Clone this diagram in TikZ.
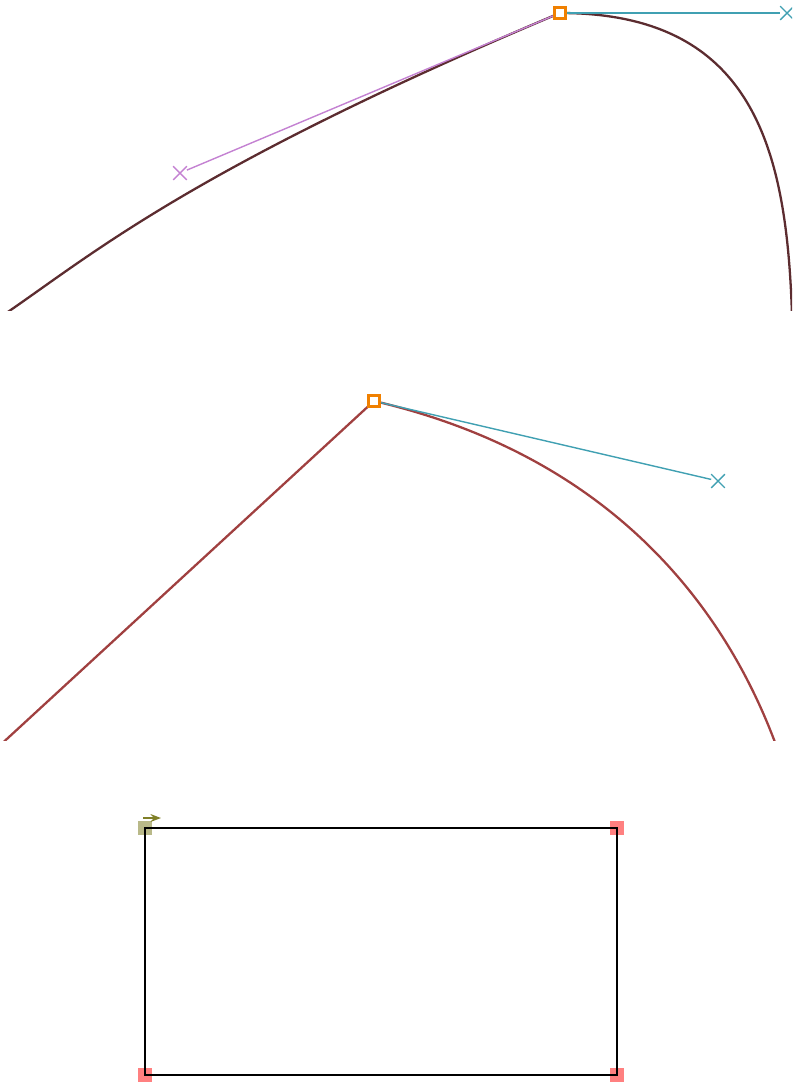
\documentclass[tikz,border=0pt]{standalone}
\usepackage{tikz}
\usetikzlibrary{positioning,arrows.meta,shapes.misc}

\definecolor{curvedark}{RGB}{92,44,48}
\definecolor{curvered}{RGB}{160,64,64}
\definecolor{handlein}{RGB}{196,130,210}
\definecolor{handleout}{RGB}{64,160,178}
\definecolor{knotorange}{RGB}{240,128,0}
\definecolor{cornerpink}{RGB}{255,128,128}
\definecolor{originolive}{RGB}{128,128,40}

\begin{document}
\begin{tikzpicture}[
  x=0.02cm, y=-0.02cm,
  knot/.style={draw=knotorange, line width=1.6pt, fill=white, rectangle,
               minimum size=6.5pt, inner sep=0pt},
  ctrl/.style={draw, cross out, minimum size=7pt, inner sep=0pt, line width=0.8pt},
  corner/.style={fill=cornerpink, rectangle, minimum size=7.5pt, inner sep=0pt},
  handle/.style={line width=0.8pt},
  >=Stealth
]
  \useasboundingbox (0,0) rectangle (792,1083);

  % Panel 1: smooth knot with both handles
  \begin{scope}
    \clip (0,0) rectangle (792,310);
    \coordinate (a0) at (-4,320);
    \coordinate (a1) at (86,260);
    \coordinate (b3) at (793,400);
    \coordinate (b2) at (793,200);
    \node[ctrl, handlein] (hin) at (180,173) {};
    \node[ctrl, handleout] (hout) at (787,13) {};
    \coordinate (k1) at (560,13);
    \draw[curvedark, line width=1.3pt]
      (a0) .. controls (a1) and (hin.center) .. (k1)
           .. controls (hout.center) and (b2) .. (b3);
    \draw[handle, handlein] (k1) -- (hin);
    \draw[handle, handleout] (k1) -- (hout);
    \node[knot] (knotA) at (k1) {};
  \end{scope}

  % Panel 2: corner knot, outgoing handle only
  \begin{scope}
    \clip (0,390) rectangle (792,740);
    \coordinate (c0) at (-29,772);
    \coordinate (k2) at (374,401);
    \coordinate (d2) at (798,760);
    \coordinate (d3) at (812,900);
    \node[ctrl, handleout] (hout2) at (718,481) {};
    \draw[curvered, line width=1.3pt]
      (c0) -- (k2) .. controls (hout2.center) and (d2) .. (d3);
    \draw[handle, handleout] (k2) -- (hout2);
    \node[knot] (knotB) at (k2) {};
  \end{scope}

  % Panel 3: rectangle path with its corners
  \coordinate (r1) at (145,828);
  \coordinate (r2) at (617,828);
  \coordinate (r3) at (617,1075);
  \coordinate (r4) at (145,1075);
  \node[corner] (c2) at (r2) {};
  \node[corner] (c3) at (r3) {};
  \node[corner] (c4) at (r4) {};
  \node[corner, fill=originolive!55] (c1) at (r1) {};
  \draw[line width=1.3pt] (r1) -- (r2) -- (r3) -- (r4) -- cycle;
  \coordinate (dirA) at (143,818);
  \coordinate (dirB) at (161,818);
  \draw[->, originolive, line width=1.1pt, >={Stealth[length=6pt]}] (dirA) -- (dirB);
\end{tikzpicture}
\end{document}
